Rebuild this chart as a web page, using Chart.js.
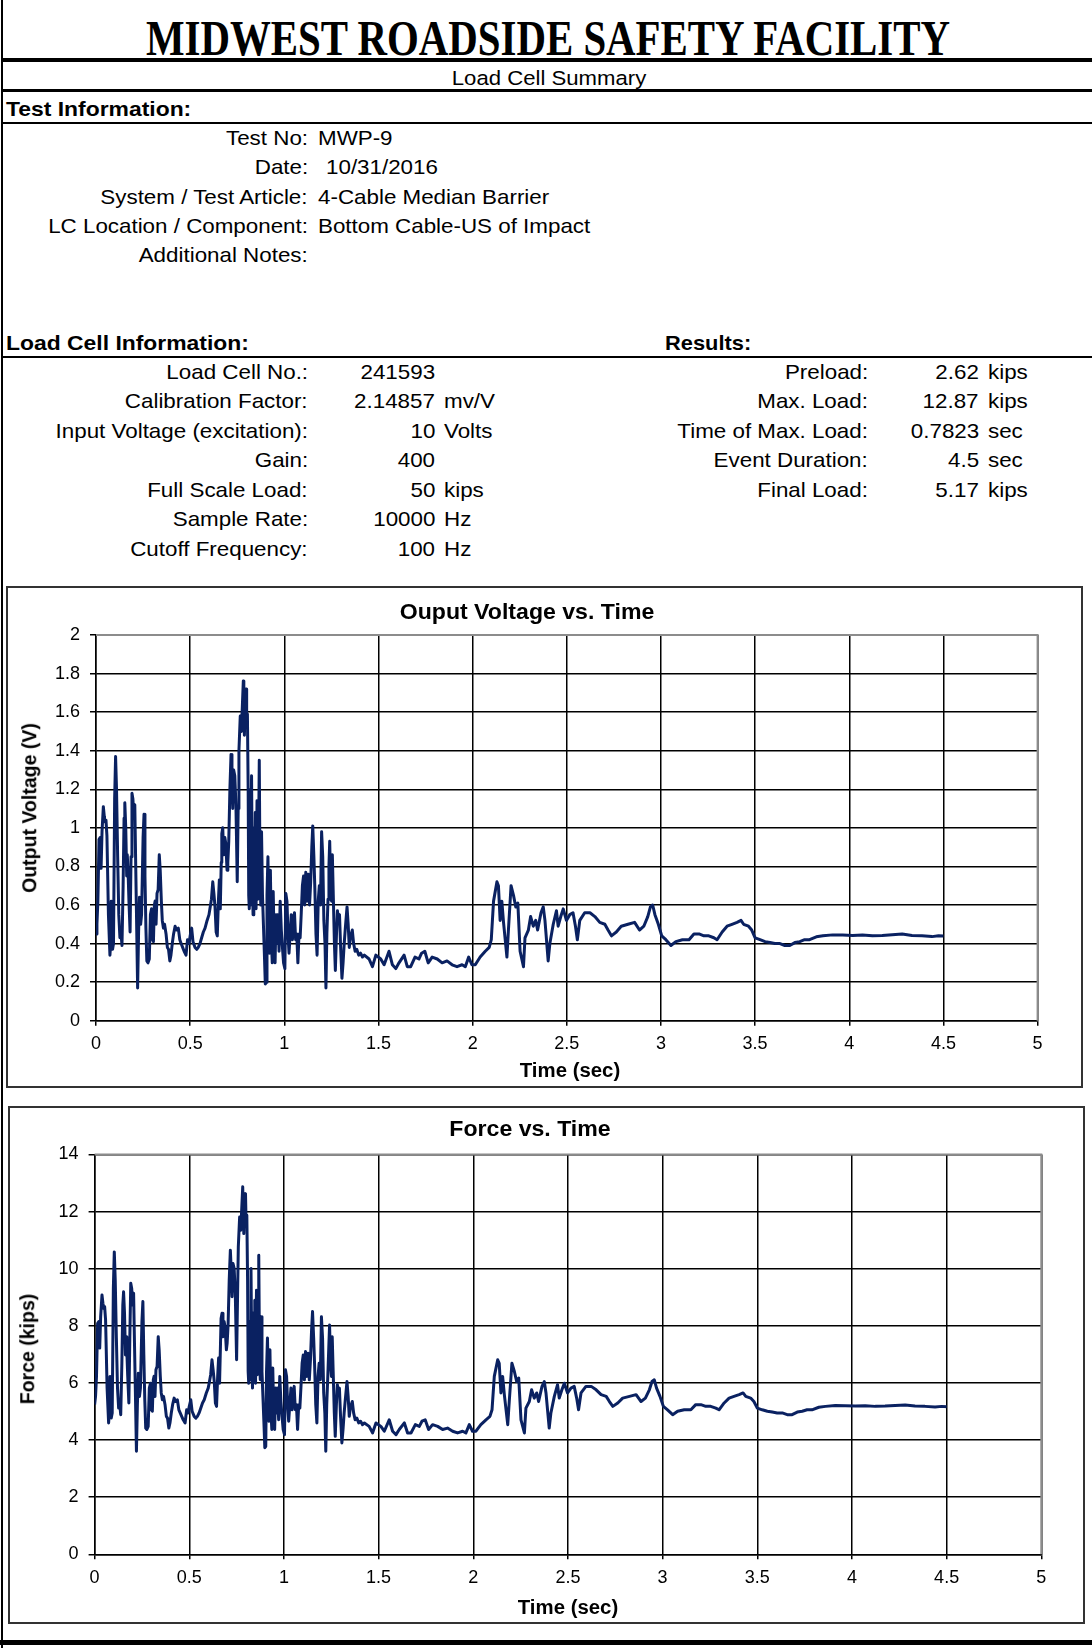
<!DOCTYPE html>
<html>
<head>
<meta charset="utf-8">
<title>Load Cell Summary</title>
<script src="https://cdn.jsdelivr.net/npm/chart.js@4/dist/chart.umd.min.js"></script>
<style>
  html, body { margin: 0; padding: 0; background: #fff; }
  #page { position: relative; width: 1092px; height: 1648px; overflow: hidden;
          font-family: "Liberation Sans", Arial, sans-serif; color: #000; }
  .t { position: absolute; white-space: nowrap; line-height: 1; }
  .rule { position: absolute; background: #000; }
  .box { position: absolute; box-sizing: border-box; border: 2px solid #333; }
  canvas { position: absolute; }
</style>
</head>
<body>
<div id="page">
  <div class="box" id="box1" style="left:6px;top:586px;width:1077px;height:502px;"></div>
  <div class="box" id="box2" style="left:8px;top:1106px;width:1077px;height:518px;"></div>
  <canvas id="voltChart" width="1076" height="501" style="left:6px;top:586px;"></canvas>
  <canvas id="forceChart" width="1076" height="517" style="left:8px;top:1106px;"></canvas>
</div>
<script>
// ---- report fields ----
const testInfoLabels = ["Test No:", "Date:", "System / Test Article:", "LC Location / Component:", "Additional Notes:"];
const testInfoValues = ["MWP-9", "10/31/2016", "4-Cable Median Barrier", "Bottom Cable-US of Impact", ""];

const cellLabels = ["Load Cell No.:", "Calibration Factor:", "Input Voltage (excitation):", "Gain:", "Full Scale Load:", "Sample Rate:", "Cutoff Frequency:"];
const cellNumbers = ["241593", "2.14857", "10", "400", "50", "10000", "100"];
const cellUnits = ["", "mv/V", "Volts", "", "kips", "Hz", "Hz"];

const resultLabels = ["Preload:", "Max. Load:", "Time of Max. Load:", "Event Duration:", "Final Load:"];
const resultNumbers = ["2.62", "12.87", "0.7823", "4.5", "5.17"];
const resultUnits = ["kips", "kips", "sec", "sec", "kips"];

// ---- axis ticks ----
const timeTicks = [0, 0.5, 1, 1.5, 2, 2.5, 3, 3.5, 4, 4.5, 5];
const voltTicks = [0, 0.2, 0.4, 0.6, 0.8, 1, 1.2, 1.4, 1.6, 1.8, 2];
const forceTicks = [0, 2, 4, 6, 8, 10, 12, 14];

// ---- recorded trace ----
const timeSec = [
  0.000, 0.005, 0.010, 0.016, 0.022, 0.027, 0.032, 0.039, 0.044, 0.049, 0.053, 0.058, 0.066, 0.074, 0.078, 0.081, 0.085, 0.088, 0.093, 0.099,
  0.104, 0.109, 0.115, 0.121, 0.127, 0.133, 0.138, 0.144, 0.149, 0.153, 0.158, 0.163, 0.166, 0.170, 0.175, 0.181, 0.186, 0.191, 0.196, 0.201,
  0.206, 0.211, 0.215, 0.221, 0.226, 0.231, 0.237, 0.242, 0.250, 0.255, 0.260, 0.265, 0.270, 0.276, 0.283, 0.289, 0.295, 0.300, 0.305, 0.310,
  0.314, 0.319, 0.324, 0.330, 0.336, 0.341, 0.347, 0.352, 0.358, 0.364, 0.372, 0.379, 0.385, 0.392, 0.398, 0.405, 0.412, 0.420, 0.428, 0.437,
  0.445, 0.452, 0.460, 0.468, 0.478, 0.486, 0.494, 0.500, 0.508, 0.515, 0.526, 0.535, 0.543, 0.552, 0.561, 0.570, 0.579, 0.590, 0.600, 0.605,
  0.613, 0.620, 0.626, 0.632, 0.638, 0.644, 0.650, 0.655, 0.660, 0.665, 0.668, 0.673, 0.678, 0.684, 0.689, 0.696, 0.700, 0.705, 0.711, 0.717,
  0.722, 0.726, 0.731, 0.737, 0.743, 0.750, 0.755, 0.759, 0.766, 0.772, 0.7823, 0.785, 0.788, 0.792, 0.797, 0.800, 0.804, 0.808, 0.811, 0.814,
  0.818, 0.822, 0.826, 0.830, 0.834, 0.838, 0.842, 0.846, 0.850, 0.855, 0.859, 0.863, 0.867, 0.871, 0.875, 0.879, 0.884, 0.889, 0.894, 0.899,
  0.904, 0.908, 0.913, 0.917, 0.921, 0.926, 0.931, 0.936, 0.941, 0.946, 0.951, 0.956, 0.961, 0.966, 0.972, 0.978, 0.984, 0.990, 0.996, 1.003,
  1.008, 1.014, 1.020, 1.025, 1.031, 1.037, 1.043, 1.049, 1.054, 1.060, 1.066, 1.072, 1.078, 1.084, 1.090, 1.096, 1.102, 1.108, 1.114, 1.120,
  1.128, 1.134, 1.140, 1.146, 1.151, 1.157, 1.162, 1.168, 1.174, 1.180, 1.186, 1.192, 1.198, 1.204, 1.210, 1.216, 1.221, 1.226, 1.232, 1.237,
  1.241, 1.246, 1.251, 1.255, 1.260, 1.266, 1.271, 1.277, 1.282, 1.288, 1.293, 1.299, 1.306, 1.312, 1.318, 1.324, 1.333, 1.339, 1.345, 1.352,
  1.361, 1.368, 1.376, 1.385, 1.395, 1.405, 1.415, 1.425, 1.450, 1.468, 1.486, 1.512, 1.530, 1.556, 1.574, 1.592, 1.609, 1.636, 1.653, 1.671,
  1.694, 1.715, 1.729, 1.746, 1.764, 1.785, 1.812, 1.838, 1.864, 1.891, 1.917, 1.944, 1.961, 1.979, 1.996, 2.014, 2.040, 2.067, 2.088, 2.099,
  2.111, 2.129, 2.137, 2.146, 2.155, 2.164, 2.182, 2.190, 2.204, 2.217, 2.229, 2.240, 2.252, 2.270, 2.278, 2.296, 2.308, 2.322, 2.335, 2.345,
  2.363, 2.375, 2.384, 2.401, 2.410, 2.428, 2.445, 2.454, 2.468, 2.481, 2.498, 2.516, 2.533, 2.546, 2.556, 2.569, 2.595, 2.623, 2.649, 2.675,
  2.702, 2.719, 2.737, 2.763, 2.789, 2.825, 2.860, 2.886, 2.909, 2.930, 2.944, 2.956, 2.968, 2.986, 3.004, 3.026, 3.053, 3.079, 3.114, 3.149,
  3.175, 3.202, 3.228, 3.254, 3.281, 3.298, 3.325, 3.351, 3.377, 3.404, 3.425, 3.439, 3.465, 3.482, 3.500, 3.526, 3.553, 3.579, 3.605, 3.632,
  3.658, 3.684, 3.711, 3.737, 3.763, 3.789, 3.825, 3.860, 3.912, 3.965, 4.018, 4.070, 4.123, 4.175, 4.228, 4.281, 4.333, 4.386, 4.439, 4.474,
  4.500
];

const outputVolts = [
  0.45, 0.50, 0.62, 0.94, 0.95, 0.79, 0.98, 1.11, 1.06, 1.03, 1.04, 0.96, 0.55, 0.34, 0.40, 0.62, 0.50, 0.37, 0.40, 1.15,
  1.37, 1.20, 0.85, 0.55, 0.43, 0.45, 0.39, 0.70, 1.05, 1.13, 1.00, 0.75, 0.86, 0.78, 0.62, 0.46, 0.85, 1.18, 1.15, 1.05,
  1.12, 0.80, 0.55, 0.17, 0.45, 0.64, 0.50, 0.55, 0.95, 1.07, 0.75, 0.48, 0.31, 0.30, 0.32, 0.55, 0.58, 0.42, 0.41, 0.60,
  0.62, 0.50, 0.66, 0.68, 0.86, 0.78, 0.62, 0.52, 0.48, 0.50, 0.45, 0.38, 0.37, 0.31, 0.34, 0.40, 0.45, 0.49, 0.47, 0.48,
  0.42, 0.40, 0.38, 0.36, 0.34, 0.42, 0.40, 0.44, 0.48, 0.41, 0.38, 0.37, 0.38, 0.40, 0.43, 0.46, 0.48, 0.52, 0.55, 0.58,
  0.63, 0.72, 0.66, 0.59, 0.46, 0.44, 0.62, 0.73, 0.58, 0.82, 0.97, 1.00, 0.86, 0.95, 0.92, 0.78, 0.82, 0.93, 1.20, 1.38,
  1.25, 1.10, 1.30, 1.27, 1.12, 0.72, 1.10, 1.40, 1.58, 1.50, 1.762, 1.62, 1.48, 1.64, 1.72, 1.55, 1.59, 1.20, 0.65, 0.58,
  0.95, 0.60, 1.27, 0.75, 0.55, 1.00, 0.62, 1.08, 0.58, 1.14, 0.63, 0.90, 1.35, 0.75, 0.60, 0.98, 0.65, 0.50, 0.35, 0.19,
  0.20, 0.65, 0.85, 0.60, 0.35, 0.78, 0.42, 0.30, 0.67, 0.40, 0.30, 0.55, 0.40, 0.55, 0.36, 0.62, 0.47, 0.38, 0.30, 0.27,
  0.66, 0.62, 0.44, 0.35, 0.45, 0.55, 0.42, 0.52, 0.56, 0.42, 0.45, 0.30, 0.45, 0.43, 0.56, 0.70, 0.75, 0.60, 0.77, 0.62,
  0.76, 0.60, 0.72, 0.90, 1.01, 0.85, 0.69, 0.45, 0.34, 0.62, 0.70, 0.60, 0.98, 0.85, 0.52, 0.40, 0.17, 0.45, 0.63, 0.80,
  0.93, 0.70, 0.62, 0.86, 0.65, 0.40, 0.26, 0.45, 0.57, 0.52, 0.55, 0.38, 0.22, 0.30, 0.40, 0.48, 0.59, 0.50, 0.38, 0.44,
  0.47, 0.40, 0.36, 0.37, 0.34, 0.35, 0.33, 0.34, 0.32, 0.28, 0.34, 0.32, 0.29, 0.36, 0.29, 0.27, 0.30, 0.34, 0.28, 0.28,
  0.33, 0.32, 0.35, 0.36, 0.30, 0.33, 0.32, 0.30, 0.31, 0.29, 0.28, 0.29, 0.28, 0.33, 0.29, 0.29, 0.33, 0.36, 0.38, 0.42,
  0.62, 0.72, 0.70, 0.52, 0.62, 0.51, 0.33, 0.47, 0.70, 0.65, 0.59, 0.61, 0.36, 0.28, 0.43, 0.47, 0.54, 0.49, 0.52, 0.47,
  0.56, 0.59, 0.52, 0.31, 0.40, 0.50, 0.57, 0.49, 0.54, 0.58, 0.52, 0.55, 0.56, 0.49, 0.42, 0.52, 0.56, 0.56, 0.54, 0.51,
  0.50, 0.47, 0.44, 0.46, 0.49, 0.50, 0.51, 0.47, 0.49, 0.54, 0.59, 0.60, 0.55, 0.50, 0.44, 0.42, 0.39, 0.41, 0.42, 0.42,
  0.45, 0.45, 0.44, 0.44, 0.43, 0.42, 0.46, 0.49, 0.50, 0.51, 0.52, 0.50, 0.49, 0.47, 0.43, 0.42, 0.41, 0.405, 0.40, 0.40,
  0.39, 0.39, 0.405, 0.41, 0.42, 0.42, 0.435, 0.44, 0.445, 0.444, 0.442, 0.444, 0.440, 0.442, 0.446, 0.449, 0.442, 0.440, 0.436, 0.440,
  0.439
];

const forceKips = [
  5.24, 5.53, 6.23, 8.09, 8.15, 7.22, 8.32, 9.08, 8.79, 8.61, 8.67, 8.21, 5.82, 4.60, 4.95, 6.23, 5.53, 4.77, 4.95, 9.31,
  10.59, 9.60, 7.57, 5.82, 5.12, 5.24, 4.89, 6.69, 8.73, 9.19, 8.44, 6.98, 7.62, 7.16, 6.23, 5.30, 7.57, 9.49, 9.31, 8.73,
  9.14, 7.27, 5.82, 3.61, 5.24, 6.34, 5.53, 5.82, 8.15, 8.85, 6.98, 5.41, 4.42, 4.37, 4.48, 5.82, 5.99, 5.06, 5.01, 6.11,
  6.23, 5.53, 6.46, 6.58, 7.62, 7.16, 6.23, 5.65, 5.41, 5.53, 5.24, 4.83, 4.77, 4.42, 4.60, 4.95, 5.24, 5.47, 5.35, 5.41,
  5.06, 4.95, 4.83, 4.71, 4.60, 5.06, 4.95, 5.18, 5.41, 5.01, 4.83, 4.77, 4.83, 4.95, 5.12, 5.30, 5.41, 5.65, 5.82, 5.99,
  6.29, 6.81, 6.46, 6.05, 5.30, 5.18, 6.23, 6.87, 5.99, 7.39, 8.26, 8.44, 7.62, 8.15, 7.97, 7.16, 7.39, 8.03, 9.60, 10.65,
  9.89, 9.02, 10.18, 10.01, 9.14, 6.81, 9.02, 10.77, 11.81, 11.35, 12.87, 12.05, 11.23, 12.16, 12.63, 11.64, 11.87, 9.60, 6.40, 5.99,
  8.15, 6.11, 10.01, 6.98, 5.82, 8.44, 6.23, 8.90, 5.99, 9.25, 6.29, 7.86, 10.47, 6.98, 6.11, 8.32, 6.40, 5.53, 4.66, 3.73,
  3.78, 6.40, 7.57, 6.11, 4.66, 7.16, 5.06, 4.37, 6.52, 4.95, 4.37, 5.82, 4.95, 5.82, 4.71, 6.23, 5.35, 4.83, 4.37, 4.19,
  6.46, 6.23, 5.18, 4.66, 5.24, 5.82, 5.06, 5.65, 5.88, 5.06, 5.24, 4.37, 5.24, 5.12, 5.88, 6.69, 6.98, 6.11, 7.10, 6.23,
  7.04, 6.11, 6.81, 7.86, 8.50, 7.57, 6.63, 5.24, 4.60, 6.23, 6.69, 6.11, 8.32, 7.57, 5.65, 4.95, 3.61, 5.24, 6.29, 7.27,
  8.03, 6.69, 6.23, 7.62, 6.40, 4.95, 4.13, 5.24, 5.94, 5.65, 5.82, 4.83, 3.90, 4.37, 4.95, 5.41, 6.05, 5.53, 4.83, 5.18,
  5.35, 4.95, 4.71, 4.77, 4.60, 4.66, 4.54, 4.60, 4.48, 4.25, 4.60, 4.48, 4.31, 4.71, 4.31, 4.19, 4.37, 4.60, 4.25, 4.25,
  4.54, 4.48, 4.66, 4.71, 4.37, 4.54, 4.48, 4.37, 4.42, 4.31, 4.25, 4.31, 4.25, 4.54, 4.31, 4.31, 4.54, 4.71, 4.83, 5.06,
  6.23, 6.81, 6.69, 5.65, 6.23, 5.59, 4.54, 5.35, 6.69, 6.40, 6.05, 6.17, 4.71, 4.25, 5.12, 5.35, 5.76, 5.47, 5.65, 5.35,
  5.88, 6.05, 5.65, 4.42, 4.95, 5.53, 5.94, 5.47, 5.76, 5.99, 5.65, 5.82, 5.88, 5.47, 5.06, 5.65, 5.88, 5.88, 5.76, 5.59,
  5.53, 5.35, 5.18, 5.30, 5.47, 5.53, 5.59, 5.35, 5.47, 5.76, 6.05, 6.11, 5.82, 5.53, 5.18, 5.06, 4.89, 5.01, 5.06, 5.06,
  5.24, 5.24, 5.18, 5.18, 5.12, 5.06, 5.30, 5.47, 5.53, 5.59, 5.65, 5.53, 5.47, 5.35, 5.12, 5.06, 5.01, 4.98, 4.95, 4.95,
  4.89, 4.89, 4.98, 5.01, 5.06, 5.06, 5.15, 5.18, 5.21, 5.20, 5.19, 5.20, 5.18, 5.19, 5.21, 5.23, 5.19, 5.18, 5.16, 5.18,
  5.17
];

// ---- page layout helpers ----
const page = document.getElementById('page');
const SANS = '"Liberation Sans", Arial, sans-serif';

// Places one line of text; align is the side of the anchor x, sx a horizontal stretch.
function put(text, x, cy, align, size, extra, sx) {
  const el = document.createElement('div');
  el.className = 't';
  el.textContent = text;
  el.style.fontSize = size + 'px';
  el.style.top = cy + 'px';
  let tx = '0';
  if (align === 'left') { el.style.left = x + 'px'; el.style.transformOrigin = 'left center'; }
  else if (align === 'right') { el.style.right = (1092 - x) + 'px'; el.style.transformOrigin = 'right center'; }
  else { el.style.left = x + 'px'; tx = '-50%'; el.style.transformOrigin = 'center center'; }
  el.style.transform = 'translate(' + tx + ',-50%)' + (sx ? ' scaleX(' + sx + ')' : '');
  if (extra) Object.assign(el.style, extra);
  page.appendChild(el);
  return el;
}
function rule(x, y, w, h) {
  const el = document.createElement('div');
  el.className = 'rule';
  Object.assign(el.style, { left: x + 'px', top: y + 'px', width: w + 'px', height: h + 'px' });
  page.appendChild(el);
}

// frame and separators
rule(1, 0, 2, 1648);
rule(1, 58, 1091, 4);
rule(1, 89, 1091, 3);
rule(1, 122, 1091, 2);
rule(1, 356, 1091, 2);
rule(0, 1640, 1092, 5);

// heading
const head = put('MIDWEST ROADSIDE SAFETY FACILITY', 548, 38, 'center', 50,
  { fontFamily: '"Liberation Serif", "Times New Roman", serif', fontWeight: 'bold' });
const headW = head.getBoundingClientRect().width;
head.style.transform = 'translate(-50%,-50%) scaleX(' + (804 / headW).toFixed(4) + ')';

const BODY = 21, SX = 1.065;
const BOLD = { fontWeight: 'bold' };
put('Load Cell Summary', 549, 78, 'center', 20.5, null, 1.08);
put('Test Information:', 6, 108, 'left', BODY, BOLD, 1.09);

const infoRows = [137, 166, 195.5, 225, 254.3];
testInfoLabels.forEach((lab, i) => {
  put(lab, 308, infoRows[i], 'right', BODY, null, SX);
  if (testInfoValues[i]) put(testInfoValues[i], i === 1 ? 326 : 318, infoRows[i], 'left', BODY, null, SX);
});

put('Load Cell Information:', 6, 342, 'left', BODY, BOLD, 1.09);
put('Results:', 665, 342, 'left', BODY, BOLD, 1.04);

const cellRows = [371, 400.4, 429.9, 459.3, 488.7, 518.1, 547.6];
cellLabels.forEach((lab, i) => {
  put(lab, 308, cellRows[i], 'right', BODY, null, SX);
  put(cellNumbers[i], 435, cellRows[i], 'right', BODY, null, SX);
  if (cellUnits[i]) put(cellUnits[i], 444, cellRows[i], 'left', BODY, null, SX);
});
resultLabels.forEach((lab, i) => {
  put(lab, 868, cellRows[i], 'right', BODY, null, SX);
  put(resultNumbers[i], 979, cellRows[i], 'right', BODY, null, SX);
  put(resultUnits[i], 988, cellRows[i], 'left', BODY, null, SX);
});

// chart captions
put('Ouput Voltage vs. Time', 527, 612, 'center', 22, BOLD, 1.05);
put('Time (sec)', 570, 1070.5, 'center', 19.5, BOLD, 1.045);
put('Output Voltage (V)', 29.5, 808, 'center', 19.5, { fontWeight: 'bold', transform: 'translate(-50%,-50%) rotate(-90deg)' });
put('Force vs. Time', 530, 1128.5, 'center', 22, BOLD, 1.05);
put('Time (sec)', 568, 1608, 'center', 19.5, BOLD, 1.045);
put('Force (kips)', 28, 1349, 'center', 19.5, { fontWeight: 'bold', transform: 'translate(-50%,-50%) rotate(-90deg)' });

// ---- charts ----
// grey border along the top and right of the plot area
const plotFrame = {
  id: 'plotFrame',
  beforeDatasetsDraw(chart) {
    const { ctx, chartArea: a } = chart;
    ctx.save();
    ctx.strokeStyle = '#8c8c8c';
    ctx.lineWidth = 2;
    ctx.beginPath();
    ctx.moveTo(a.left, a.top);
    ctx.lineTo(a.right, a.top);
    ctx.lineTo(a.right, a.bottom);
    ctx.stroke();
    ctx.restore();
  }
};

function makeChart(id, values, yTicks, yMax, geo) {
  return new Chart(document.getElementById(id), {
    type: 'line',
    data: {
      datasets: [{
        data: timeSec.map((t, i) => ({ x: t, y: values[i] })),
        borderColor: '#0a2161',
        borderWidth: 3,
        pointRadius: 0,
        tension: 0,
        borderJoinStyle: 'round',
        fill: false
      }]
    },
    options: {
      responsive: false,
      animation: false,
      devicePixelRatio: 1,
      parsing: false,
      layout: { padding: { left: 0, top: geo.top, right: geo.right, bottom: 0 } },
      plugins: { legend: { display: false }, tooltip: { enabled: false }, title: { display: false } },
      scales: {
        x: {
          type: 'linear', min: 0, max: 5,
          afterBuildTicks: s => { s.ticks = timeTicks.map(v => ({ value: v })); },
          afterFit: s => { s.height = geo.xh; },
          grid: { color: '#000', lineWidth: 1.5, tickLength: 5 },
          border: { color: '#000', width: 1.5 },
          ticks: { color: '#000', padding: 8, maxRotation: 0, autoSkip: false,
                   font: { family: SANS, size: 18 }, callback: v => String(v) }
        },
        y: {
          type: 'linear', min: 0, max: yMax,
          afterBuildTicks: s => { s.ticks = yTicks.map(v => ({ value: v })); },
          afterFit: s => { s.width = geo.yw; },
          grid: { color: '#000', lineWidth: 1.5, tickLength: 6 },
          border: { color: '#000', width: 1.5 },
          ticks: { color: '#000', padding: 10, autoSkip: false,
                   font: { family: SANS, size: 18 }, callback: v => String(v) }
        }
      }
    },
    plugins: [plotFrame]
  });
}

makeChart('voltChart', outputVolts, voltTicks, 2, { top: 49, right: 44.4, xh: 66.3, yw: 90 });
makeChart('forceChart', forceKips, forceTicks, 14, { top: 48.5, right: 42.7, xh: 68.7, yw: 86.6 });
</script>
</body>
</html>
